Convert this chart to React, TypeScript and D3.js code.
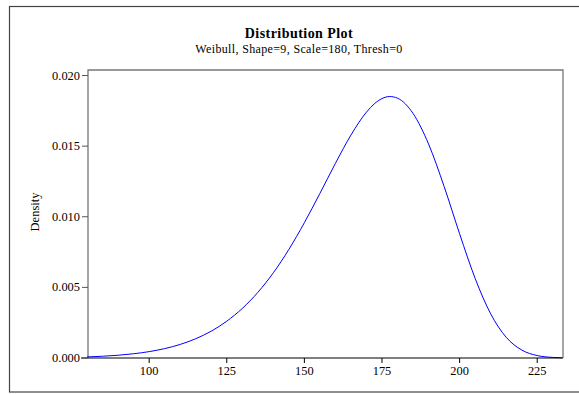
import React from "react";
import * as d3 from "d3";

// Density curve values
const xValues = [80, 85, 90, 95, 100, 105, 110, 115, 120, 125, 130, 135, 140, 145, 150, 155, 160, 165, 170, 172.5, 175, 177.5, 180, 182.5, 185, 190, 195, 200, 205, 210, 215, 220, 225, 230, 233];
const densityValues = [0.000076, 0.000124, 0.000195, 0.0003, 0.000452, 0.000665, 0.000961, 0.001364, 0.001901, 0.002606, 0.003509, 0.004644, 0.006033, 0.007686, 0.00958, 0.011652, 0.013782, 0.015785, 0.017408, 0.017989, 0.018368, 0.018512, 0.018394, 0.017997, 0.017314, 0.015146, 0.012148, 0.008792, 0.005636, 0.003129, 0.001468, 0.000566, 0.000173, 0.000041, 0.000015];
const xTicks = [100, 125, 150, 175, 200, 225];
const yTicks = [0, 0.005, 0.01, 0.015, 0.02];

const title = "Distribution Plot";
const subtitle = "Weibull, Shape=9, Scale=180, Thresh=0";
const yLabel = "Density";

export default function App() {
  const W = 579, H = 394;
  const left = 88, right = 563, top = 70, bottom = 358;
  const x = d3.scaleLinear().domain([80.3, 233.3]).range([left, right]);
  const y = d3.scaleLinear().domain([0, 0.02]).range([bottom, 75.5]);
  const line = d3
    .line<number>()
    .x((_, i) => x(xValues[i]))
    .y((d) => y(d))
    .curve(d3.curveMonotoneX);
  const font = "'Liberation Serif', 'Times New Roman', serif";
  return (
    <svg width={W} height={H} style={{ position: "absolute", left: 0, top: 0 }} fontFamily={font}>
      <rect x={0} y={0} width={W} height={H} fill="#fff" />
      {/* outer frame */}
      <rect x={9.5} y={6.5} width={600} height={385.5} fill="none" stroke="#444" strokeWidth={1.2} />
      <text x={299} y={38} textAnchor="middle" fontSize={14} letterSpacing={0.45} fontWeight="bold" fill="#000">{title}</text>
      <text x={299} y={53} textAnchor="middle" fontSize={12} letterSpacing={0.35} fill="#000">{subtitle}</text>
      {/* plot box */}
      <path d={`M${left},${bottom}V${top}H${right}V${bottom}`} fill="none" stroke="#777" strokeWidth={1.3} />
      <path d={line(densityValues) || ""} fill="none" stroke="#0000ff" strokeWidth={1} />
      {/* x axis */}
      <line x1={left - 7} x2={right} y1={bottom} y2={bottom} stroke="#000" strokeWidth={1.2} />
      {xTicks.map((t) => (
        <g key={t}>
          <line x1={x(t)} x2={x(t)} y1={bottom} y2={bottom + 5} stroke="#000" />
          <text x={x(t)} y={bottom + 17} textAnchor="middle" fontSize={12.4} fill="#000">{t}</text>
        </g>
      ))}
      {yTicks.map((t) => (
        <g key={t}>
          <line x1={left - 6} x2={left} y1={y(t)} y2={y(t)} stroke="#555" />
          <text x={left - 8} y={y(t) + 4} textAnchor="end" fontSize={12.4} fill="#000">{t.toFixed(3)}</text>
        </g>
      ))}
      <text transform={`translate(39,212) rotate(-90)`} textAnchor="middle" fontSize={12.5} fill="#000">{yLabel}</text>
    </svg>
  );
}
